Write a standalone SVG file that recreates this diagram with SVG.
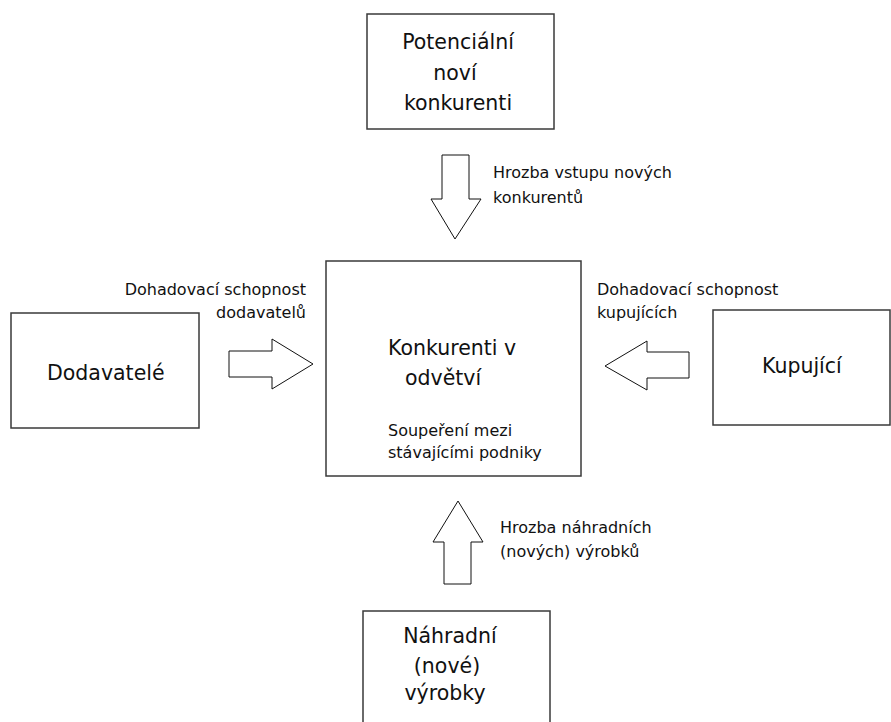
<svg xmlns="http://www.w3.org/2000/svg" width="891" height="722" viewBox="0 0 891 722">
<style>
.box{fill:#fff;stroke:#3a3a3a;stroke-width:1.5}
.arr{fill:#fff;stroke:#111;stroke-width:1}
.big{font-family:"DejaVu Sans","Liberation Sans",sans-serif;font-size:20.5px;fill:#111}
.sm{font-family:"DejaVu Sans","Liberation Sans",sans-serif;font-size:16px;fill:#111}
</style>
<rect width="891" height="722" fill="#fff"/>
<g id="potencialni">
<rect class="box" x="367" y="14" width="187" height="115"/>
<text class="big" text-anchor="middle"><tspan x="458" y="49">Potenciální</tspan><tspan x="455" y="80">noví</tspan><tspan x="458" y="110">konkurenti</tspan></text>
</g>
<g id="dodavatele">
<rect class="box" x="11" y="313" width="188" height="115"/>
<text class="big" x="47" y="380">Dodavatelé</text>
</g>
<g id="kupujici">
<rect class="box" x="713" y="310" width="177" height="115"/>
<text class="big" x="762" y="373">Kupující</text>
</g>
<g id="konkurenti">
<rect class="box" x="326" y="261" width="255" height="215"/>
<text class="big"><tspan x="388" y="355">Konkurenti v</tspan><tspan x="405" y="385">odvětví</tspan></text>
<text class="sm"><tspan x="388" y="436">Soupeření mezi</tspan><tspan x="388" y="458">stávajícími podniky</tspan></text>
</g>
<g id="nahradni">
<rect class="box" x="363" y="611" width="187" height="130"/>
<text class="big" text-anchor="middle"><tspan x="450" y="643">Náhradní</tspan><tspan x="447" y="673">(nové)</tspan><tspan x="445" y="700">výrobky</tspan></text>
</g>
<g id="connectors">
<polygon class="arr" points="442,155 469,155 469,199 481,199 455,239 431,199 442,199"/>
<polygon class="arr" points="229,351 272,351 272,339 313,364 272,389 272,377 229,377"/>
<polygon class="arr" points="689,352 647,352 647,341 605,366 647,390 647,378 689,378"/>
<polygon class="arr" points="444,584 444,542 433,542 458,501 483,542 471,542 471,584"/>
<text class="sm"><tspan x="493" y="178">Hrozba vstupu nových</tspan><tspan x="493" y="203">konkurentů</tspan></text>
<text class="sm" text-anchor="end"><tspan x="306" y="295">Dohadovací schopnost</tspan><tspan x="306" y="318">dodavatelů</tspan></text>
<text class="sm"><tspan x="597" y="295">Dohadovací schopnost</tspan><tspan x="597" y="318">kupujících</tspan></text>
<text class="sm"><tspan x="500" y="533">Hrozba náhradních</tspan><tspan x="500" y="557">(nových) výrobků</tspan></text>
</g>
</svg>
